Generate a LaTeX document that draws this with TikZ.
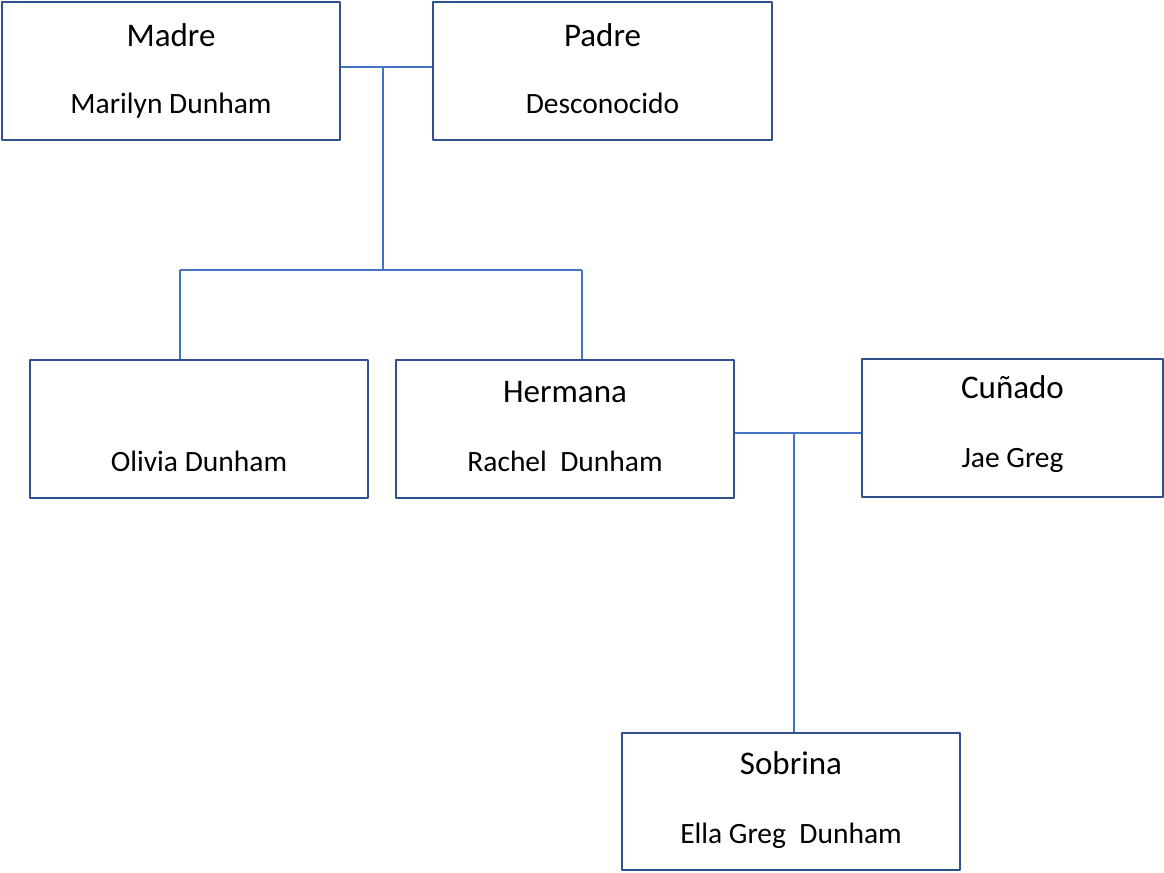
\documentclass[tikz,border=0pt]{standalone}
\usepackage{fontspec}
\setmainfont{Carlito}
\definecolor{borde}{RGB}{47,82,143}
\definecolor{linea}{RGB}{68,114,196}
\tikzset{
  persona/.style={draw=borde,line width=2.2bp,rectangle,inner sep=0pt},
  titulo/.style={anchor=base,inner sep=0pt,font=\fontsize{33bp}{40bp}\selectfont},
  nombre/.style={anchor=base,inner sep=0pt,font=\fontsize{29.5bp}{34bp}\selectfont},
  rama/.style={draw=linea,line width=1.8bp},
}
\begin{document}
\begin{tikzpicture}[line join=bevel,]
%%
\useasboundingbox (0bp,0bp) rectangle (1164bp,-873bp);
\node (madre) at (171bp,-71bp) [persona,minimum width=338bp,minimum height=138bp] {};
  \node (padre) at (602.5bp,-71bp) [persona,minimum width=339bp,minimum height=138bp] {};
  \node (olivia) at (199bp,-429bp) [persona,minimum width=338bp,minimum height=138bp] {};
  \node (hermana) at (565bp,-429bp) [persona,minimum width=338bp,minimum height=138bp] {};
  \node (cunado) at (1012.5bp,-428bp) [persona,minimum width=301bp,minimum height=138bp] {};
  \node (sobrina) at (791bp,-801.5bp) [persona,minimum width=338bp,minimum height=137bp] {};
%
\node (madre_t) at (171bp,-46bp) [titulo] {Madre};
  \node (madre_n) at (171bp,-113bp) [nombre] {Marilyn Dunham};
  \node (padre_t) at (602.5bp,-46bp) [titulo] {Padre};
  \node (padre_n) at (602.5bp,-113bp) [nombre] {Desconocido};
  \node (olivia_n) at (199bp,-471bp) [nombre] {Olivia Dunham};
  \node (hermana_t) at (565bp,-402bp) [titulo] {Hermana};
  \node (hermana_n) at (565bp,-471bp) [nombre] {Rachel\ \ Dunham};
  \node (cunado_t) at (1012.5bp,-398bp) [titulo] {Cuñado};
  \node (cunado_n) at (1012.5bp,-467bp) [nombre] {Jae Greg};
  \node (sobrina_t) at (791bp,-774bp) [titulo] {Sobrina};
  \node (sobrina_n) at (791bp,-843bp) [nombre] {Ella Greg\ \ Dunham};
%
\coordinate (union_a) at (383bp,-67bp);
  \coordinate (hijos_a) at (383bp,-270bp);
  \coordinate (hijo_1) at (180bp,-270bp);
  \coordinate (hijo_2) at (582bp,-270bp);
  \coordinate (union_b) at (794bp,-433bp);
  \draw [rama] (madre.east |- union_a) -- (padre.west |- union_a);
  \draw [rama] (union_a) -- (hijos_a);
  \draw [rama] (hijo_1) -- (hijo_2);
  \draw [rama] (hijo_1) -- (hijo_1 |- olivia.north);
  \draw [rama] (hijo_2) -- (hijo_2 |- hermana.north);
  \draw [rama] (hermana.east |- union_b) -- (cunado.west |- union_b);
  \draw [rama] (union_b) -- (union_b |- sobrina.north);
%
\end{tikzpicture}
\end{document}
